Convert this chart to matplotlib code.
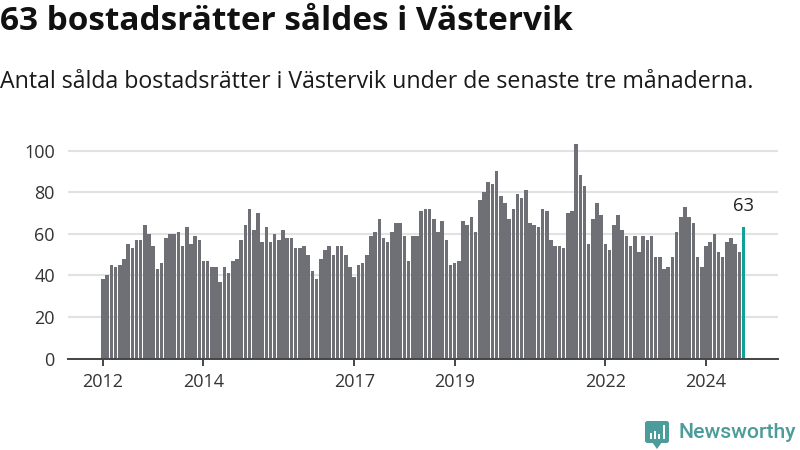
import matplotlib
matplotlib.use("Agg")
import matplotlib.pyplot as plt
from matplotlib.patches import FancyBboxPatch, Polygon, Rectangle

title = "63 bostadsrätter såldes i Västervik"
subtitle = "Antal sålda bostadsrätter i Västervik under de senaste tre månaderna."
values = [38, 40, 45, 44, 45, 48, 55, 53, 57, 57, 64, 60, 54, 43, 46, 58, 60, 60, 61, 54,
          63, 55, 59, 57, 47, 47, 44, 44, 37, 44, 41, 47, 48, 57, 64, 72, 62, 70, 56, 63,
          56, 60, 57, 62, 58, 58, 53, 53, 54, 50, 42, 38, 48, 52, 54, 50, 54, 54, 50, 44,
          39, 45, 46, 50, 59, 61, 67, 58, 56, 61, 65, 65, 59, 47, 59, 59, 71, 72, 72, 67,
          61, 66, 57, 45, 46, 47, 66, 64, 68, 61, 76, 80, 85, 84, 90, 78, 75, 67, 72, 79,
          77, 81, 65, 64, 63, 72, 71, 57, 54, 54, 53, 70, 71, 103, 88, 83, 55, 67, 75, 69,
          55, 52, 64, 69, 62, 59, 54, 59, 51, 59, 57, 59, 49, 49, 43, 44, 49, 61, 68, 73,
          68, 65, 49, 44, 54, 56, 60, 51, 49, 56, 58, 55, 51, 63]
year_ticks = [0, 24, 60, 84, 120, 144]
year_labels = ["2012", "2014", "2017", "2019", "2022", "2024"]
y_ticks = [0, 20, 40, 60, 80, 100]

GREY = "#6f6f76"
TEAL = "#12a196"
INK = "#111111"
LOGO = "#4b9c9a"
W, H = 800, 450
plt.rcParams["font.family"] = "Open Sans"

fig = plt.figure(figsize=(8, 4.5), dpi=100, facecolor="white")
x0, x1, ytop, ybot = 68, 778, 130, 358.5
ax = fig.add_axes([x0 / W, 1 - ybot / H, (x1 - x0) / W, (ybot - ytop) / H])
step = 4.187
ax.set_xlim((x0 - 103) / step, (x1 - 103) / step)
ax.set_ylim(0, (ybot - ytop) / 2.08)

colors = [GREY] * (len(values) - 1) + [TEAL]
ax.bar(range(len(values)), values, width=0.85, color=colors, zorder=3, linewidth=0)
ax.set_axisbelow(True)
ax.yaxis.grid(True, color="#e2e2e2", linewidth=1.5)
ax.xaxis.grid(False)
for s in ["top", "left", "right"]:
    ax.spines[s].set_visible(False)
ax.spines["bottom"].set_color("#444444")
ax.spines["bottom"].set_linewidth(1.4)
ax.spines["bottom"].set_zorder(4)
ax.set_yticks(y_ticks)
ax.set_xticks(year_ticks)
ax.set_xticklabels(year_labels)
ax.tick_params(axis="y", length=0, pad=9.5, labelsize=13, labelcolor="#333333")
ax.tick_params(axis="x", length=5, width=1.4, color="#444444", pad=5.5,
               labelsize=13, labelcolor="#333333")
ax.annotate("63", (len(values) - 1, values[-1]), xytext=(0, 9), textcoords="offset points",
            ha="center", va="bottom", fontsize=13.2, color="#222222")

fig.text(0, 1 - 22 / H, title, fontsize=24, fontweight="bold", color=INK, va="center", ha="left")
fig.text(0, 1 - 81.5 / H, subtitle, fontsize=16.68, color="#1a1a1a", va="center", ha="left")

# Newsworthy logo
lax = fig.add_axes([0, 0, 1, 1], facecolor="none")
lax.set_xlim(0, W)
lax.set_ylim(H, 0)
lax.axis("off")
lax.add_patch(FancyBboxPatch((645, 421), 24, 22, boxstyle="round,pad=0,rounding_size=2.5",
                             fc=LOGO, ec="none"))
lax.add_patch(Polygon([[652, 442], [662, 442], [657, 449]], fc=LOGO, ec="none"))
for bx, bh in [(650, 6), (654, 8), (658, 5), (663, 14)]:
    lax.add_patch(Rectangle((bx, 439 - bh), 2.4, bh, fc="white", ec="none"))
lax.text(678, 433, "Newsworthy", fontsize=15.3, color=LOGO, va="center", ha="left",
         fontweight="medium", family="Roboto")

fig.savefig("out.png", dpi=100, facecolor="white")
